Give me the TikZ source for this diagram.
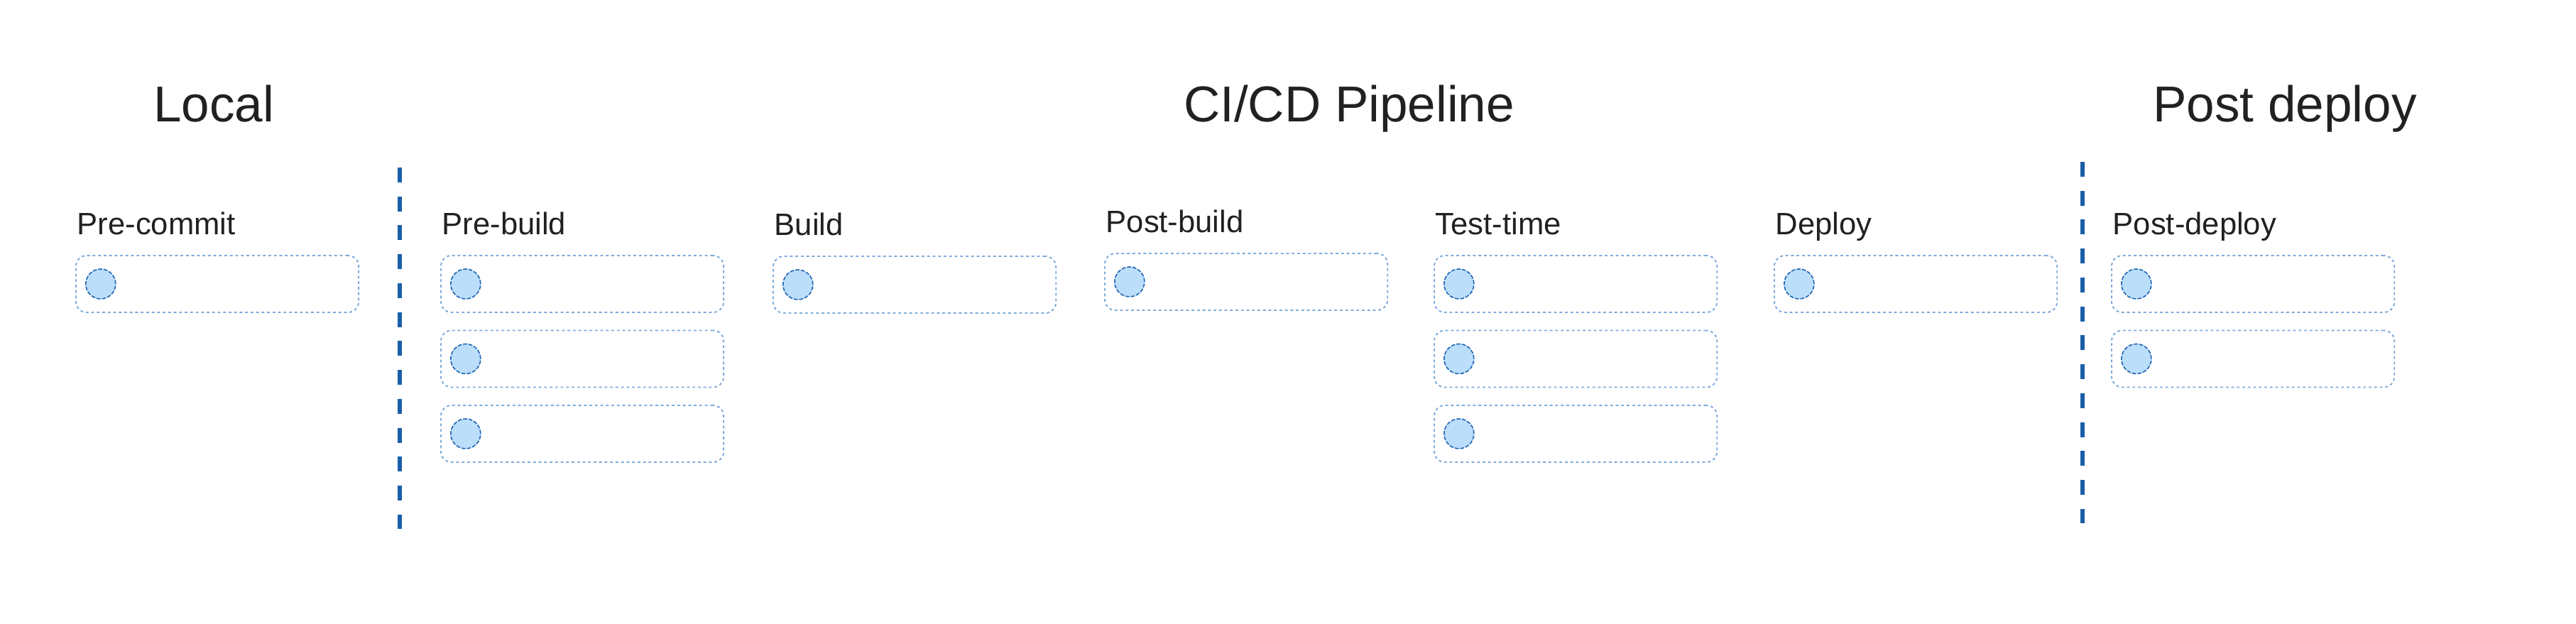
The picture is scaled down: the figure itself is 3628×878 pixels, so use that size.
\documentclass[tikz,border=0pt]{standalone}
\usepackage{fontspec}
\setmainfont{Liberation Sans}
\usepackage{xcolor}
\usepackage{tikz}
\usetikzlibrary{positioning, calc}

\definecolor{ink}{HTML}{212121}
\definecolor{slotline}{HTML}{7FAADB}
\definecolor{dotfill}{HTML}{BBDEFB}
\definecolor{dotline}{HTML}{1E64B4}
\definecolor{divline}{HTML}{1A5EA8}

\begin{document}
\begin{tikzpicture}[
        x=0.01cm, y=-0.01cm,
        title/.style={font=\fontsize{20.2}{24}\selectfont, text=ink, anchor=base, inner sep=0pt},
        stage/.style={font=\fontsize{12.4}{15}\selectfont, text=ink, anchor=base west, inner sep=0pt},
        slot/.style={rectangle, rounded corners=0.15cm, draw=slotline, line width=0.55pt, dash pattern=on 1.1pt off 1.1pt, minimum width=3.98cm, minimum height=0.8cm, anchor=north west},
        dot/.style={circle, draw=dotline, fill=dotfill, line width=0.45pt, dash pattern=on 1.6pt off 0.6pt, minimum size=0.42cm, inner sep=0pt},
        divider/.style={draw=divline, line width=1.45pt, dash pattern=on 0.21cm off 0.197cm}
    ]
    \useasboundingbox[fill=white] (0,0) rectangle (3628,878);

    % Phase titles
    \node[title] (local) at (301, 171) {Local};
    \node[title] (cicd) at (1900, 171) {CI/CD Pipeline};
    \node[title] (postdep) at (3218, 171) {Post deploy};

    % Phase dividers
    \coordinate (cut1-top) at (563, 236);
    \coordinate (cut1-bot) at (563, 745);
    \coordinate (cut2-top) at (2933, 228);
    \coordinate (cut2-bot) at (2933, 737);
    \draw[divider] (cut1-top) -- (cut1-bot);
    \draw[divider] (cut2-top) -- (cut2-bot);

    % Stage columns: label, then one slot per step with its marker
    \foreach \key/\x/\y/\txt/\rows in {pc/106/359/Pre-commit/1, pb/620/359/Pre-build/3, bd/1088/360/Build/1, pob/1555/356/Post-build/1, tt/2019/359/Test-time/3, dp/2498/359/Deploy/1, pd/2973/359/Post-deploy/2} {
        \node[stage] (\key-lbl) at (\x+2, \y-29) {\txt};
        \foreach \r in {1,...,\rows} {
            \node[slot] (\key-\r) at (\x, \y+105.5*\r-105.5) {};
            \node[dot, right=0.14cm of \key-\r.west] (\key-dot\r) {};
        }
    }
\end{tikzpicture}
\end{document}
